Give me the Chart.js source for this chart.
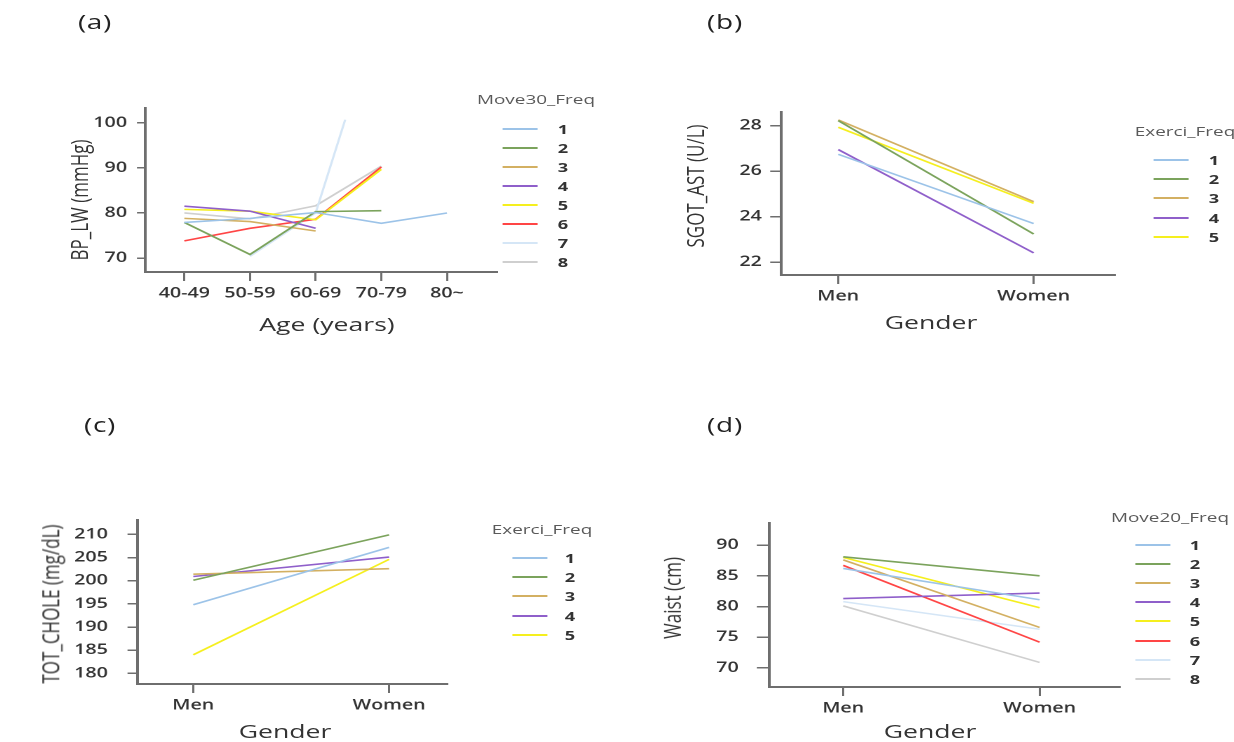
<!DOCTYPE html>
<html><head><meta charset="utf-8">
<script src="https://cdn.jsdelivr.net/npm/chart.js@4.4.1/dist/chart.umd.min.js"></script>
<style>
html,body{margin:0;padding:0;background:#fff;overflow:hidden;width:1234px;height:742px}
#stage{position:absolute;left:0;top:0;height:742px;transform-origin:0 0;font-family:'Open Sans','DejaVu Sans',sans-serif}
canvas{position:absolute}
.t{position:absolute;white-space:nowrap;color:#333;line-height:1}
</style></head><body><div id="stage"></div>
<script>
// ---------- data ----------
const ageGroups = ['40-49', '50-59', '60-69', '70-79', '80~'];
const move30Levels = ['1', '2', '3', '4', '5', '6', '7', '8'];
const bpLW_1 = [77.9, 78.8, 80.1, 77.7, 80.0];
const bpLW_2 = [77.9, 70.8, 80.3, 80.5, null];
const bpLW_3 = [78.8, 78.1, 76.0, null, null];
const bpLW_4 = [81.5, 80.4, 76.6, null, null];
const bpLW_5 = [80.8, 80.4, 78.5, 89.7, null];
const bpLW_6 = [73.8, 76.6, 78.6, 90.2, null];
const bpLW_7 = [null, 70.4, 80.0, null, null];
const bpLW_7_end = { x: 2.45, y: 100.7 };   // series 7 leaves the plot partway to 70-79
const bpLW_8 = [80.0, 78.7, 81.6, 90.4, null];
const yTicksA = [70, 80, 90, 100];

const genders = ['Men', 'Women'];
const exerciLevels = ['1', '2', '3', '4', '5'];
const sgot_1 = [26.74, 23.70];
const sgot_2 = [28.22, 23.24];
const sgot_3 = [28.25, 24.66];
const sgot_4 = [26.95, 22.41];
const sgot_5 = [27.93, 24.59];
const yTicksB = [22, 24, 26, 28];

const chole_1 = [194.8, 207.2];
const chole_2 = [200.1, 209.9];
const chole_3 = [201.4, 202.6];
const chole_4 = [200.9, 205.1];
const chole_5 = [184.0, 204.6];
const yTicksC = [180, 185, 190, 195, 200, 205, 210];

const move20Levels = ['1', '2', '3', '4', '5', '6', '7', '8'];
const waist_1 = [86.2, 81.1];
const waist_2 = [88.1, 85.0];
const waist_3 = [87.6, 76.6];
const waist_4 = [81.3, 82.2];
const waist_5 = [88.0, 79.8];
const waist_6 = [86.7, 74.2];
const waist_7 = [80.8, 76.3];
const waist_8 = [80.1, 70.9];
const yTicksD = [70, 75, 80, 85, 90];

// ---------- styles ----------
const COLORS = ['#9cc3e8', '#7ba35c', '#d3b062', '#8f5fca', '#f5ef1e', '#ff4545', '#d5e6f6', '#cfcfcf'];
const K = 1.4;  // horizontal stretch of the original figure
const FONT = "'Open Sans','DejaVu Sans',sans-serif";
const AXIS = '#6e6e6e';

const stage = document.getElementById('stage');
stage.style.width = (1234 / K) + 'px';
stage.style.transform = 'scaleX(' + K + ')';

function addText(txt, cx, cy, css, rot) {
  const d = document.createElement('div');
  d.className = 't';
  d.textContent = txt;
  Object.assign(d.style, css);
  d.style.left = (cx / K) + 'px';
  d.style.top = cy + 'px';
  d.style.transform = 'translate(-50%,-50%)' + (rot ? ' rotate(-90deg)' : '');
  stage.appendChild(d);
}

function addLegend(title, names, L) {
  addText(title, L.tx, L.ty, { fontSize: '13.5px', color: '#5a5a5a' });
  names.forEach((n, i) => {
    const y = L.y0 + i * L.dy;
    const s = document.createElement('div');
    s.style.cssText = 'position:absolute;left:' + (L.x1 / K) + 'px;width:' + ((L.x2 - L.x1) / K) +
      'px;top:' + (y - 1) + 'px;height:2px;background:' + COLORS[i];
    stage.appendChild(s);
    addText(n, L.nx, y, { fontSize: '13px', fontWeight: '700', color: '#333' });
  });
}

function toPoints(arr) {
  const out = [];
  arr.forEach((v, i) => { if (v !== null) out.push({ x: i, y: v }); });
  return out;
}

function makeChart(c) {
  const cv = document.createElement('canvas');
  cv.width = c.box.w / K;
  cv.height = c.box.h;
  cv.style.left = (c.box.x / K) + 'px';
  cv.style.top = c.box.y + 'px';
  cv.style.width = (c.box.w / K) + 'px';
  cv.style.height = c.box.h + 'px';
  stage.appendChild(cv);
  const tickFont = { family: FONT, size: 14, weight: '600' };
  const xMin = -(c.men - c.area.l) / c.step;
  const xMax = (c.area.r - c.men) / c.step;
  new Chart(cv, {
    type: 'line',
    data: {
      datasets: c.series.map((pts, i) => ({
        data: pts, borderColor: COLORS[i], backgroundColor: COLORS[i],
        borderWidth: 1.6, pointRadius: 0, tension: 0, fill: false
      }))
    },
    options: {
      responsive: false, animation: false, devicePixelRatio: 2,
      layout: { padding: { left: 0, right: (c.box.x + c.box.w - c.area.r) / K, top: c.area.t - c.box.y, bottom: 0 } },
      plugins: { legend: { display: false }, tooltip: { enabled: false } },
      scales: {
        x: {
          type: 'linear', min: xMin, max: xMax,
          afterFit: s => { s.height = c.box.y + c.box.h - c.area.b; },
          afterBuildTicks: s => { s.ticks = c.xLabels.map((l, i) => ({ value: i })); },
          ticks: { callback: v => c.xLabels[v], font: tickFont, color: '#333', padding: 4, maxRotation: 0, autoSkip: false },
          grid: { drawOnChartArea: false, drawTicks: true, tickLength: 9, color: AXIS, tickColor: AXIS, lineWidth: 1.5 },
          border: { display: true, color: AXIS, width: 2 }
        },
        y: {
          type: 'linear', min: c.yMin, max: c.yMax,
          afterFit: s => { s.width = (c.area.l - c.box.x) / K; },
          afterBuildTicks: s => { s.ticks = c.yTicks.map(v => ({ value: v })); },
          ticks: { font: tickFont, color: '#333', padding: c.yPad, autoSkip: false },
          grid: { drawOnChartArea: false, drawTicks: true, tickLength: c.yTick, color: AXIS, tickColor: AXIS, lineWidth: 1.5 },
          border: { display: true, color: AXIS, width: 2 }
        }
      }
    }
  });
}

// ---------- panel (a) ----------
const s7 = toPoints(bpLW_7); s7.push(bpLW_7_end);
makeChart({
  box: { x: 0, y: 0, w: 617, h: 371 }, area: { l: 145, r: 497, t: 108, b: 272 },
  men: 184, step: 65.7, xLabels: ageGroups, yMin: 66.9, yMax: 103.3, yTicks: yTicksA, yPad: 7, yTick: 6,
  series: [toPoints(bpLW_1), toPoints(bpLW_2), toPoints(bpLW_3), toPoints(bpLW_4), toPoints(bpLW_5), toPoints(bpLW_6), s7, toPoints(bpLW_8)]
});
// ---------- panel (b) ----------
makeChart({
  box: { x: 617, y: 0, w: 617, h: 371 }, area: { l: 781, r: 1115, t: 112, b: 275 },
  men: 838, step: 196, xLabels: genders, yMin: 21.44, yMax: 28.6, yTicks: yTicksB, yPad: 6, yTick: 8,
  series: [sgot_1, sgot_2, sgot_3, sgot_4, sgot_5].map(toPoints)
});
// ---------- panel (c) ----------
makeChart({
  box: { x: 0, y: 371, w: 617, h: 371 }, area: { l: 137, r: 447, t: 520, b: 684 },
  men: 193, step: 196, xLabels: genders, yMin: 177.7, yMax: 213.1, yTicks: yTicksC, yPad: 14, yTick: 7,
  series: [chole_1, chole_2, chole_3, chole_4, chole_5].map(toPoints)
});
// ---------- panel (d) ----------
makeChart({
  box: { x: 617, y: 371, w: 617, h: 371 }, area: { l: 769, r: 1120, t: 523, b: 687 },
  men: 843, step: 197, xLabels: genders, yMin: 66.9, yMax: 93.6, yTicks: yTicksD, yPad: 13, yTick: 9,
  series: [waist_1, waist_2, waist_3, waist_4, waist_5, waist_6, waist_7, waist_8].map(toPoints)
});

// ---------- texts ----------
const panelCss = { fontSize: '20px', color: '#222', letterSpacing: '0.5px' };
addText('(a)', 95, 22, panelCss);
addText('(b)', 725, 22, panelCss);
addText('(c)', 100, 425, panelCss);
addText('(d)', 725, 425, panelCss);

const xtCss = { fontSize: '19px', color: '#333' };
addText('Age (years)', 327, 324, xtCss);
addText('Gender', 931, 322, xtCss);
addText('Gender', 285, 731, xtCss);
addText('Gender', 930, 731, xtCss);

const ytCss = { fontSize: '17px', color: '#333' };
addText('BP_LW (mmHg)', 79, 200, ytCss, true);
addText('SGOT_AST (U/L)', 695, 186, ytCss, true);
addText('TOT_CHOLE (mg/dL)', 50, 604, ytCss, true);
addText('Waist (cm)', 672, 598, ytCss, true);

addLegend('Move30_Freq', move30Levels, { tx: 536, ty: 100, x1: 503, x2: 538, nx: 563, y0: 129, dy: 19 });
addLegend('Exerci_Freq', exerciLevels, { tx: 1185, ty: 132, x1: 1154, x2: 1189, nx: 1214, y0: 160, dy: 19.2 });
addLegend('Exerci_Freq', exerciLevels, { tx: 542, ty: 530, x1: 512, x2: 547, nx: 570, y0: 558, dy: 19.2 });
addLegend('Move20_Freq', move20Levels, { tx: 1170, ty: 518, x1: 1135, x2: 1170, nx: 1195, y0: 545, dy: 19.1 });
</script></body></html>
